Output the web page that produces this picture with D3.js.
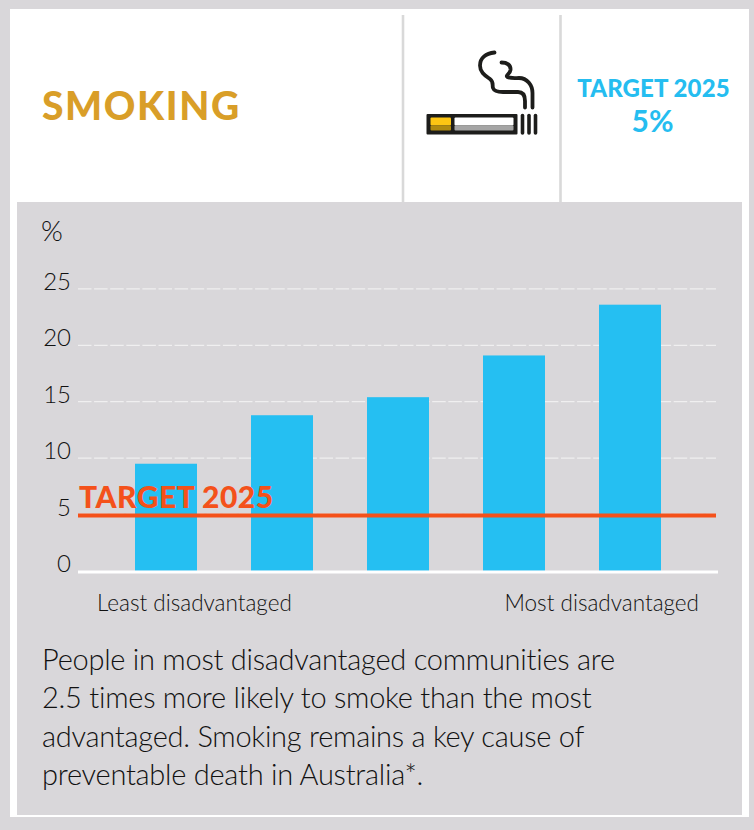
<!DOCTYPE html>
<html><head><meta charset="utf-8">
<script src="https://cdn.jsdelivr.net/npm/d3@7"></script>
<style>html,body{margin:0;padding:0;background:#d9d7da}svg{display:block}text{font-family:Lato,sans-serif}</style>
</head><body><div id="c"></div>
<script>
const categories=["q1","q2","q3","q4","q5"];
const values=[9.5,13.8,15.4,19.1,23.6];
const yTicks=[0,5,10,15,20,25];
const target=5;
const xEndLabels=["Least disadvantaged","Most disadvantaged"];
const bodyLines=["People in most disadvantaged communities are","2.5 times more likely to smoke than the most","advantaged. Smoking remains a key cause of","preventable death in Australia*."];

const svg=d3.select("#c").append("svg").attr("width",754).attr("height",830);
svg.append("rect").attr("width",754).attr("height",830).attr("fill","#d9d7da");
svg.append("rect").attr("x",10).attr("y",9).attr("width",739).attr("height",808).attr("fill","#fff");
svg.append("rect").attr("x",17).attr("y",202).attr("width",725).attr("height",613).attr("fill","#d9d7da");
svg.selectAll("line.div").data([403,560.5]).join("line").attr("class","div").attr("x1",d=>d).attr("x2",d=>d)
  .attr("y1",15).attr("y2",202).attr("stroke","#d9d9d9").attr("stroke-width",2.6);

svg.append("text").attr("x",42).attr("y",120).attr("font-size",39).attr("font-weight",900)
  .attr("letter-spacing",1.6).attr("fill","#d99e28").text("SMOKING");
svg.append("text").attr("x",653.5).attr("y",97).attr("text-anchor","middle").attr("font-size",24).attr("font-weight",900)
  .attr("letter-spacing",0.1).attr("fill","#25bdf0").text("TARGET 2025");
svg.append("text").attr("x",652.5).attr("y",132).attr("text-anchor","middle").attr("font-size",30).attr("font-weight",700)
  .attr("fill","#25bdf0").text("5%");

// cigarette icon
const ic=svg.append("g"), ink="#1d1d1b";
const box=(x,y,w,h,f)=>ic.append("rect").attr("x",x).attr("y",y).attr("width",w).attr("height",h).attr("rx",1).attr("fill",f);
box(426.5,114,91,20.5,ink);
box(430.5,117.5,20.5,8,"#fdc513");
box(430.5,125.5,20.5,5,"#b08a10");
box(454.5,117.5,59,8,"#fff");
box(454.5,125.5,59,5,"#a5a5a5");
ic.selectAll("line.ash").data([522.5,529,535.5]).join("line").attr("class","ash")
  .attr("x1",d=>d).attr("x2",d=>d).attr("y1",115.5).attr("y2",133)
  .attr("stroke",ink).attr("stroke-width",3.6).attr("stroke-linecap","round");
ic.selectAll("path").data([
  "M494.5,52.5C486,53.5 480,58 480,65.5C480,73 486,76 490,79C494,82 492,85 493,88C494,91 498,92 503,92L518,92C523,92 525,96 525,101L525,107.5",
  "M501.5,62.5C507,62.5 511,65 510.5,70C510,74 505,75.5 507.5,77C510,78.5 515,78 519,78C527,78 532.5,85 532.5,93L532.5,107.5"
]).join("path").attr("d",d=>d).attr("fill","none").attr("stroke",ink).attr("stroke-width",3.8).attr("stroke-linecap","round");

// chart
const y=d3.scaleLinear().domain([0,25]).range([570.9,288.9]);
const x=d3.scaleBand().domain(categories).range([108,688]).paddingInner(54/116).paddingOuter(27/116);

svg.selectAll("line.grid").data(yTicks.filter(d=>d>0)).join("line").attr("class","grid")
  .attr("x1",78).attr("x2",716).attr("y1",d=>y(d)).attr("y2",d=>y(d))
  .attr("stroke","#f0eff0").attr("stroke-width",1.3).attr("stroke-dasharray","13.5 2.6");

svg.selectAll("rect.bar").data(values).join("rect").attr("class","bar")
  .attr("x",(d,i)=>x(categories[i])).attr("width",x.bandwidth())
  .attr("y",d=>y(d)).attr("height",d=>y(0)-y(d)).attr("fill","#25bff2");

svg.append("line").attr("x1",78).attr("x2",718).attr("y1",y(0)+1).attr("y2",y(0)+1).attr("stroke","#fff").attr("stroke-width",3);

svg.selectAll("text.yt").data(yTicks).join("text").attr("class","yt")
  .attr("x",71).attr("y",d=>y(d)+1).attr("text-anchor","end").attr("font-size",24).attr("font-weight",300)
  .attr("fill","#111").text(d=>d);
svg.append("text").attr("x",41).attr("y",241).attr("font-size",28).attr("font-weight",300).attr("fill","#111").text("%");

svg.append("line").attr("x1",78).attr("x2",716).attr("y1",y(target)+1).attr("y2",y(target)+1)
  .attr("stroke","#f4511a").attr("stroke-width",4);
svg.append("text").attr("x",79).attr("y",508).attr("font-size",30).attr("font-weight",900)
  .attr("letter-spacing",0.5).attr("fill","#f4511a").text("TARGET 2025");

svg.append("text").attr("x",97).attr("y",611).attr("font-size",22.5).attr("font-weight",300).attr("fill","#111").text(xEndLabels[0]);
svg.append("text").attr("x",699).attr("y",611).attr("text-anchor","end").attr("font-size",22.5).attr("font-weight",300).attr("fill","#111").text(xEndLabels[1]);

svg.selectAll("text.body").data(bodyLines).join("text").attr("class","body")
  .attr("x",42).attr("y",(d,i)=>670+i*38.3).attr("font-size",29).attr("font-weight",300)
  .attr("letter-spacing",-0.25).attr("fill","#111").text(d=>d);
</script></body></html>
